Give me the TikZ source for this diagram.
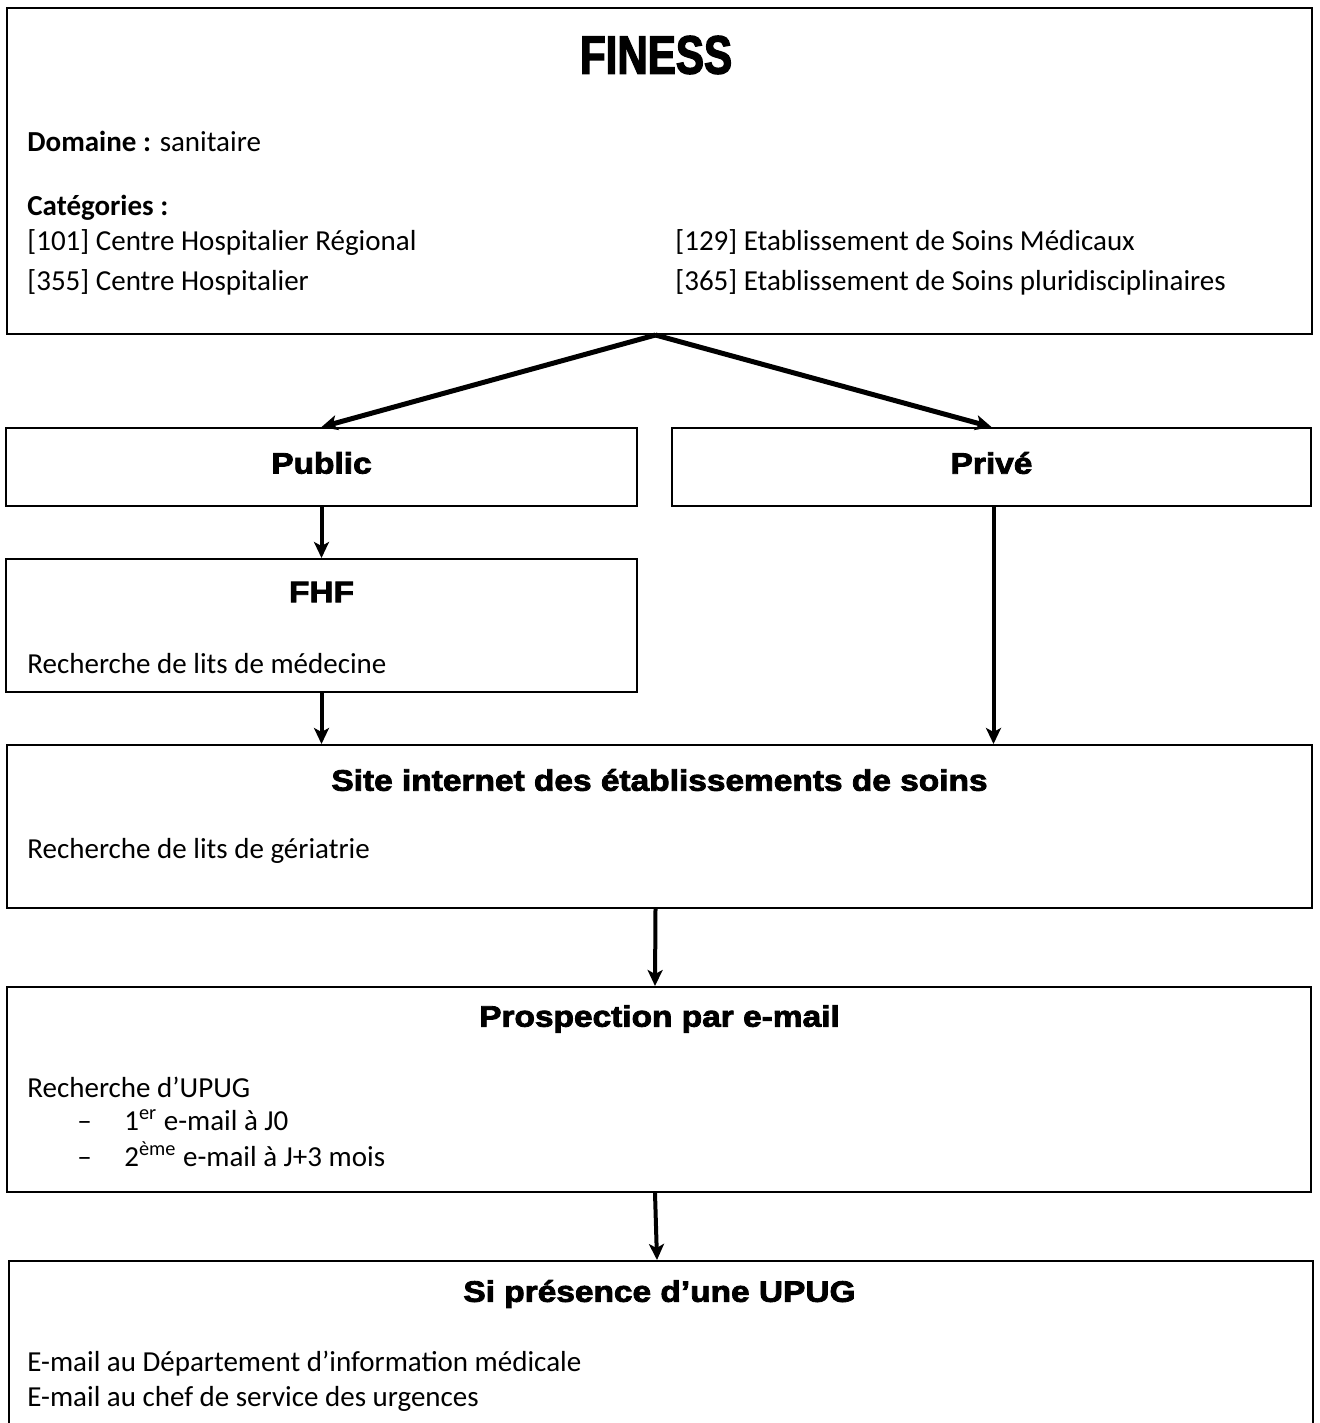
\documentclass[tikz,border=0pt]{standalone}
\usepackage{fontspec}
\setmainfont{Carlito}
\newfontfamily\headfont[FakeBold=2.8,FakeStretch=1.13]{Liberation Sans Bold}
\newfontfamily\titlefont[FakeBold=2.5,FakeStretch=0.78]{Liberation Sans Bold}
\usetikzlibrary{arrows.meta,fit,calc}
\begin{document}
\begin{tikzpicture}[x=0.5pt,y=-0.5pt,
  box/.style={draw=black,line width=1pt,inner sep=0pt,fill=none},
  body/.style={inner sep=0pt,anchor=base west,font=\fontsize{14.5pt}{17pt}\selectfont},
  head/.style={inner sep=0pt,font=\headfont\fontsize{14.8pt}{17pt}\selectfont},
  arr/.style={line width=2pt,-{Stealth[length=8pt,width=7.5pt,inset=2pt]}},
  darr/.style={line width=2.5pt,-{Stealth[length=8pt,width=7.5pt,inset=2pt]}}]
\clip (0,0) rectangle (1319,1423);
% boxes
\node[box,fit={(7,8)(1312,334)}] (finess) {};
\node[box,fit={(6,428)(637,506)}] (public) {};
\node[box,fit={(672,428)(1311,506)}] (prive) {};
\node[box,fit={(6,559)(637,692)}] (fhf) {};
\node[box,fit={(7,745)(1312,908)}] (site) {};
\node[box,fit={(7,987)(1311,1192)}] (prosp) {};
\node[box,fit={(9,1261)(1313,1460)}] (upug) {};
% FINESS content
\node[inner sep=0pt,font=\titlefont\fontsize{27pt}{30pt}\selectfont] (tfiness) at (656,55) {FINESS};
\node[body] (dom) at (27,152) {\textbf{Domaine :} sanitaire};
\node[body] (cat) at (27,216) {\textbf{Catégories :}};
\node[body] (c101) at (27,250) {[101] Centre Hospitalier Régional};
\node[body] (c355) at (27,291) {[355] Centre Hospitalier};
\node[body] (c129) at (675,250) {[129] Etablissement de Soins Médicaux};
\node[body] (c365) at (675,291) {[365] Etablissement de Soins pluridisciplinaires};
% Public / Prive
\node[head] (tpublic) at (321.5,463) {Public};
\node[head] (tprive) at (991.5,463) {Privé};
% FHF
\node[head] (tfhf) at (321.5,592) {FHF};
\node[body] (rmed) at (27,673) {Recherche de lits de médecine};
% Site
\node[head] (tsite) at (659.5,780) {Site internet des établissements de soins};
\node[body] (rger) at (27,858) {Recherche de lits de gériatrie};
% Prospection
\node[head] (tprosp) at (659.5,1019) {Prospection par e-mail};
\node[body] (rupug) at (27,1097) {Recherche d’UPUG};
\node[body] (d1) at (77,1130) {–};
\node[body] (l1) at (124,1130) {1\textsuperscript{er} e-mail à J0};
\node[body] (d2) at (77,1166) {–};
\node[body] (l2) at (124,1166) {2\textsuperscript{ème} e-mail à J+3 mois};
% UPUG
\node[head] (tupug) at (659.5,1294) {Si présence d’une UPUG};
\node[body] (m1) at (27,1371) {E-mail au Département d’information médicale};
\node[body] (m2) at (27,1406) {E-mail au chef de service des urgences};
% connectors
\coordinate (apex) at ($(finess.south)+(-4,0)$);
\draw[darr] (apex) -- (public.north);
\draw[darr] (apex) -- (prive.north);
\draw[arr] (public.south) -- (fhf.north);
\draw[arr] (fhf.south) -- (fhf.south |- site.north);
\draw[arr] ($(prive.south)+(2,0)$) -- ($(prive.south |- site.north)+(2,0)$);
\draw[arr] ($(site.south)+(-4,0)$) -- ($(prosp.north)+(-4,0)$);
\draw[arr] ($(prosp.south)+(-4,0)$) -- ($(upug.north)+(-4,0)$);
\end{tikzpicture}
\end{document}
